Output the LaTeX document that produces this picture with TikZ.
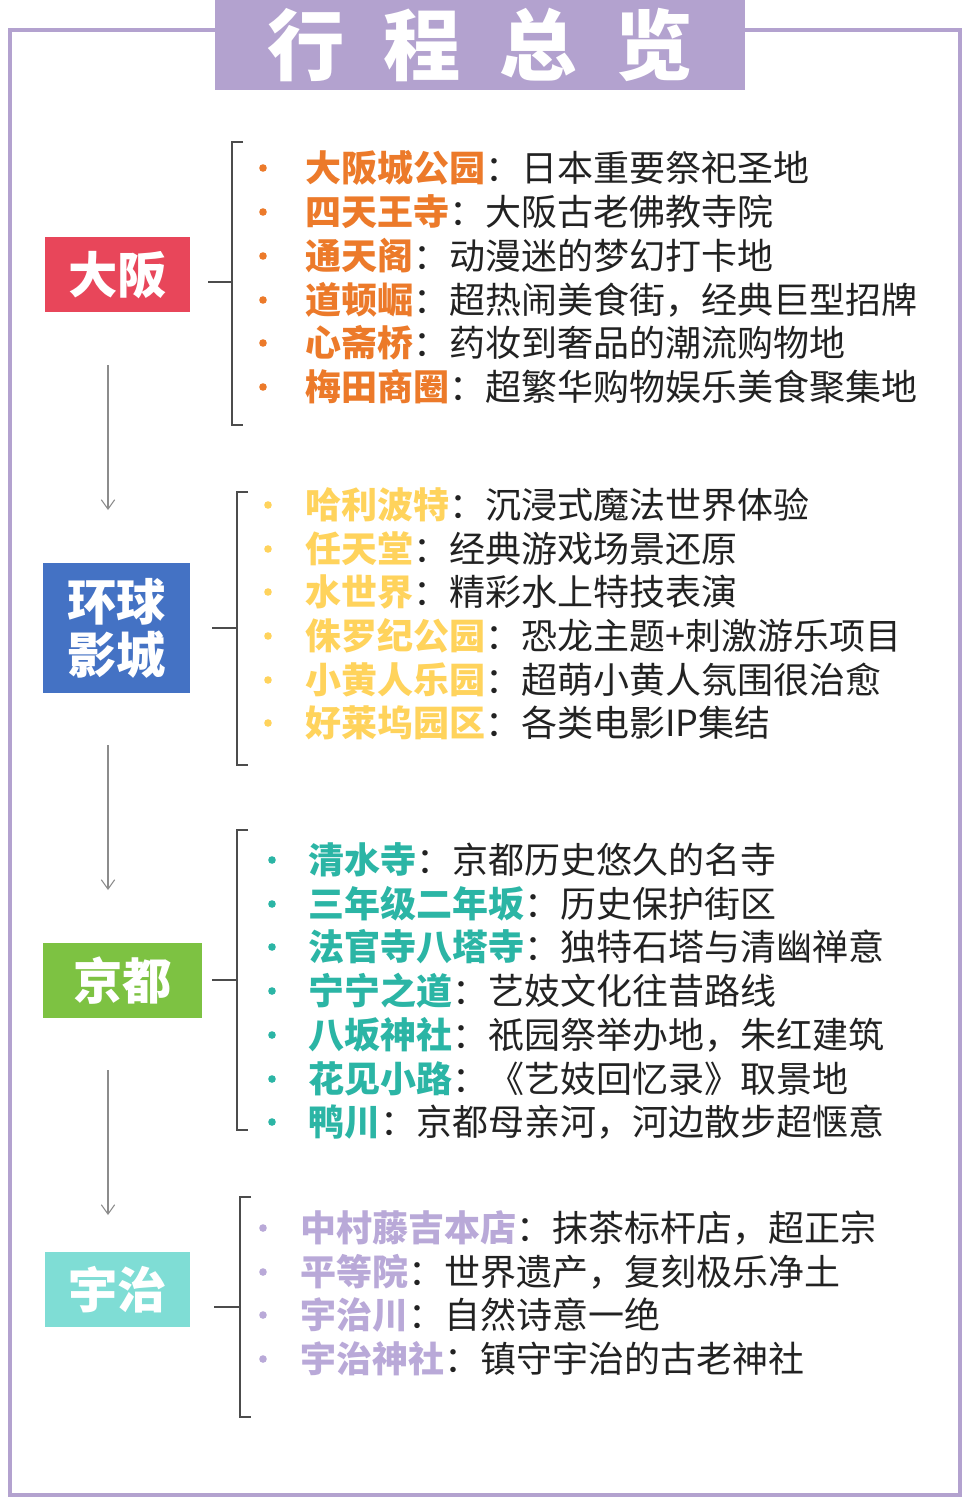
\documentclass[tikz,border=0pt]{standalone}
\usepackage{fontspec}
\setmainfont{Noto Sans CJK SC}
\usetikzlibrary{arrows.meta}
\definecolor{frame}{HTML}{B3A2CF}
\definecolor{osk}{HTML}{E8465A}
\definecolor{usj}{HTML}{4472C4}
\definecolor{kyo}{HTML}{7DC242}
\definecolor{uji}{HTML}{7FDDD5}
\definecolor{tosk}{HTML}{EC7A2A}
\definecolor{tusj}{HTML}{FFD35C}
\definecolor{tkyo}{HTML}{2BB5A5}
\definecolor{tuji}{HTML}{B9A9D8}
\definecolor{txt}{HTML}{222222}
\tikzset{
 x=0.75pt,y=-0.75pt,
 city/.style={fill=#1,text=white,font=\fontsize{37}{40}\selectfont\bfseries,inner sep=0pt,anchor=north west,align=center},
 item/.style={anchor=west,inner sep=0pt,text=txt,font=\fontsize{27}{29}\selectfont},
 brk/.style={draw=black!70,line width=1.3pt},
 flow/.style={draw=black!45,line width=0.8pt,-{Straight Barb[length=7pt,width=10pt]}},
}
\begin{document}
\begin{tikzpicture}
\useasboundingbox (0,0) rectangle (967,1499);
\fill[white] (0,0) rectangle (967,1499);
\draw[frame,line width=2.5pt] (10,30) rectangle (960,1495);
\node[fill=frame,minimum width=530*0.75pt,minimum height=90*0.75pt,anchor=north west,inner sep=0pt,text=white,font=\fontsize{58}{60}\selectfont\bfseries] (title) at (215,0) {行\hspace{0.5em}程\hspace{0.5em}总\hspace{0.5em}览};
% city boxes
\node[city=osk,minimum width=145*0.75pt,minimum height=75*0.75pt] (osaka) at (45,237) {大阪};
\node[city=usj,minimum width=147*0.75pt,minimum height=130*0.75pt] (usjb) at (43,563) {\fontsize{37}{44}\selectfont 环球\\影城};
\node[city=kyo,minimum width=159*0.75pt,minimum height=75*0.75pt] (kyoto) at (43,943) {京都};
\node[city=uji,minimum width=145*0.75pt,minimum height=75*0.75pt] (ujib) at (45,1252) {宇治};
% arrows
\coordinate (a1) at (108,365); \coordinate (a2) at (108,510);
\coordinate (b1) at (108,745); \coordinate (b2) at (108,890);
\coordinate (c1) at (108,1070); \coordinate (c2) at (108,1215);
\draw[flow] (a1) -- (a2);
\draw[flow] (b1) -- (b2);
\draw[flow] (c1) -- (c2);
% brackets
\coordinate (ob) at (232,282); \coordinate (os) at (208,282);
\draw[brk] (os) -- (ob);
\draw[brk] (243,142) -- (232,142) -- (232,425) -- (243,425);
\coordinate (ub) at (237,628); \coordinate (us) at (212,628);
\draw[brk] (us) -- (ub);
\draw[brk] (248,492) -- (237,492) -- (237,765) -- (248,765);
\coordinate (kb) at (237,980); \coordinate (ks) at (212,980);
\draw[brk] (ks) -- (kb);
\draw[brk] (248,830) -- (237,830) -- (237,1130) -- (248,1130);
\coordinate (jb) at (240,1307); \coordinate (js) at (214,1307);
\draw[brk] (js) -- (jb);
\draw[brk] (251,1197) -- (240,1197) -- (240,1417) -- (251,1417);
% items
\foreach \y/\n/\d [count=\i] in {168/大阪城公园/日本重要祭祀圣地,212/四天王寺/大阪古老佛教寺院,256/通天阁/动漫迷的梦幻打卡地,300/道顿崛/超热闹美食街，经典巨型招牌,343/心斋桥/药妆到奢品的潮流购物地,387/梅田商圈/超繁华购物娱乐美食聚集地}{
 \fill[tosk] (263,\y) circle (3.8);
 \node[item] (o\i) at (305,\y) {{\color{tosk}\bfseries\n}：\d};
}
\foreach \y/\n/\d [count=\i] in {505/哈利波特/沉浸式魔法世界体验,549/任天堂/经典游戏场景还原,592/水世界/精彩水上特技表演,636/侏罗纪公园/恐龙主题+刺激游乐项目,680/小黄人乐园/超萌小黄人氛围很治愈,723/好莱坞园区/各类电影IP集结}{
 \fill[tusj] (268,\y) circle (3.8);
 \node[item] (u\i) at (305,\y) {{\color{tusj}\bfseries\n}：\d};
}
\foreach \y/\n/\d [count=\i] in {860/清水寺/京都历史悠久的名寺,904/三年级二年坂/历史保护街区,947/法官寺八塔寺/独特石塔与清幽禅意,991/宁宁之道/艺妓文化往昔路线,1035/八坂神社/祇园祭举办地，朱红建筑,1079/花见小路/《艺妓回忆录》取景地,1122/鸭川/京都母亲河，河边散步超惬意}{
 \fill[tkyo] (272,\y) circle (3.8);
 \node[item] (k\i) at (308,\y) {{\color{tkyo}\bfseries\n}：\d};
}
\foreach \y/\n/\d [count=\i] in {1228/中村藤吉本店/抹茶标杆店，超正宗,1272/平等院/世界遗产，复刻极乐净土,1315/宇治川/自然诗意一绝,1359/宇治神社/镇守宇治的古老神社}{
 \fill[tuji] (263,\y) circle (3.8);
 \node[item] (j\i) at (300,\y) {{\color{tuji}\bfseries\n}：\d};
}
\end{tikzpicture}
\end{document}
